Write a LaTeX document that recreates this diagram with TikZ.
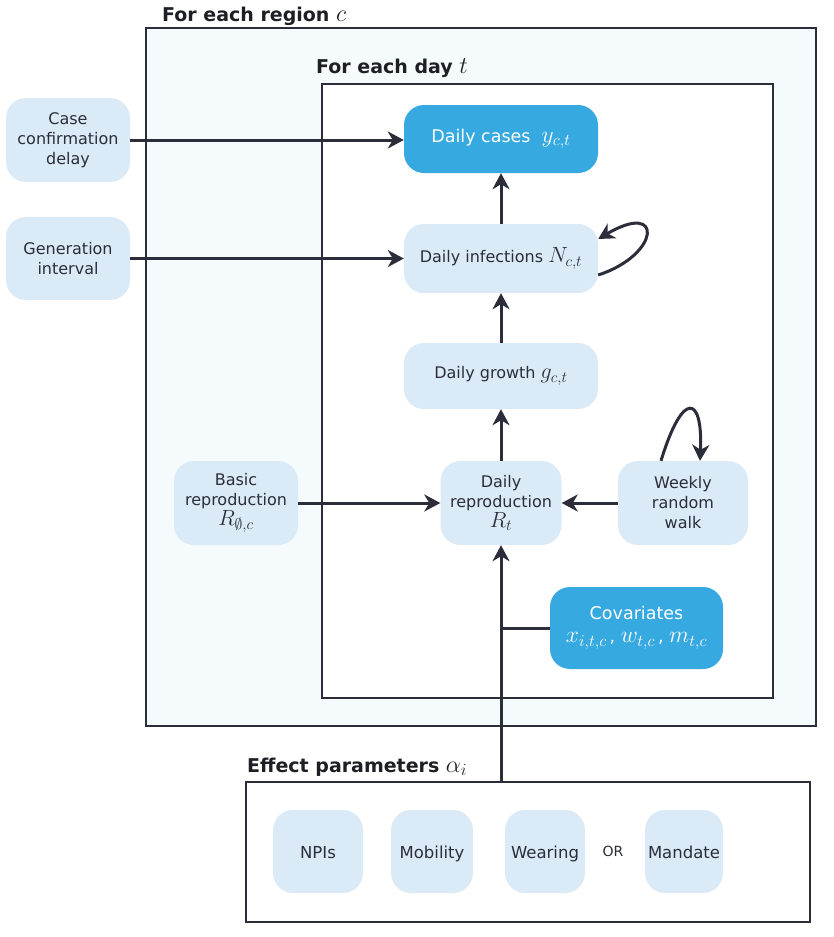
\RequirePackage{fix-cm}
\documentclass[tikz,border=0pt]{standalone}
\usepackage{fontspec}
\setmainfont{DejaVu Sans}
\DeclareMathSizes{14}{17}{12}{9}
\DeclareMathSizes{16}{22}{15.5}{11}
\DeclareMathSizes{17.5}{23.5}{16.5}{12}
\DeclareMathSizes{19}{24}{17}{12}
\usetikzlibrary{arrows.meta}
\definecolor{ink}{HTML}{2B2E3A}
\definecolor{darkblue}{HTML}{36A9E1}
\definecolor{lightblue}{HTML}{DAEBF7}
\definecolor{regionfill}{HTML}{F5FAFD}
\definecolor{titleink}{HTML}{1E1F24}
\begin{document}
\begin{tikzpicture}[x=1pt,y=-1pt,
  lbox/.style={rectangle, rounded corners=20pt, fill=lightblue, text=ink, align=center,
    font=\fontsize{16}{20}\selectfont, inner sep=0pt},
  dbox/.style={lbox, fill=darkblue, text=white, font=\fontsize{17.5}{23}\selectfont},
  ebox/.style={lbox, minimum height=83pt, text height=14pt, text depth=0pt,
    font=\fontsize{16.5}{20}\selectfont},
  frame/.style={draw=ink, line width=1.6pt, inner sep=0pt},
  arr/.style={draw=ink, line width=3pt, -{Stealth[length=16pt,width=17pt,inset=5pt]}},
  plainline/.style={draw=ink, line width=3pt},
  ttl/.style={anchor=base west, inner sep=0pt, text=titleink,
    font=\bfseries\fontsize{19}{23}\selectfont}]
\useasboundingbox (0,0) rectangle (833,937);

% frames
\node[frame, fill=regionfill, minimum width=670pt, minimum height=698pt] (region) at (481,377) {};
\node[frame, fill=white, minimum width=451pt, minimum height=614pt] (day) at (547.5,391) {};
\node[frame, fill=white, minimum width=564pt, minimum height=140pt] (effect) at (528,852) {};

\node[ttl] (regiontitle) at (162,21) {For each region $c$};
\node[ttl] (daytitle) at (316,73) {For each day $t$};
\node[ttl] (effecttitle) at (247,772) {Effect parameters $\alpha_i$};

% nodes
\node[dbox, minimum width=194pt, minimum height=68pt] (cases) at (501,139) {Daily cases \ $y_{c,t}$};
\node[lbox, minimum width=194pt, minimum height=69pt] (infections) at (501,258.5) {Daily infections $N_{c,t}$};
\node[lbox, minimum width=194pt, minimum height=66pt] (growth) at (501,376) {Daily growth $g_{c,t}$};
\node[lbox, minimum width=121pt, minimum height=84pt] (reprod) at (501,503) {Daily\\reproduction\\$R_t$};
\node[lbox, minimum width=124pt, minimum height=84pt] (basic) at (236,503) {Basic\\reproduction\\$R_{\emptyset,c}$};
\node[lbox, minimum width=130pt, minimum height=84pt] (weekly) at (683,503) {Weekly\\random\\walk};
\node[dbox, minimum width=173pt, minimum height=82pt] (covar) at (636.5,628) {Covariates\\$x_{i,t,c}$\,, $w_{t,c}$\,, $m_{t,c}$};
\node[lbox, minimum width=124pt, minimum height=84pt] (casedelay) at (68,140) {Case\\confirmation\\delay};
\node[lbox, minimum width=124pt, minimum height=83pt] (geninterval) at (68,258.5) {Generation\\interval};

\node[ebox, minimum width=90pt] (npis) at (318,851.5) {NPIs};
\node[ebox, minimum width=82pt] (mobility) at (432,851.5) {Mobility};
\node[ebox, minimum width=80pt] (wearing) at (545,851.5) {Wearing};
\node[text=ink, font=\fontsize{14}{16}\selectfont, inner sep=0pt] (ortext) at (613,851) {OR};
\node[ebox, minimum width=78pt] (mandate) at (684,851.5) {Mandate};

% connectors
\draw[arr] (casedelay.east) -- (casedelay.east -| cases.west);
\draw[arr] (geninterval.east) -- (geninterval.east -| infections.west);
\draw[arr] (infections.north) -- (cases.south);
\draw[arr] (growth.north) -- (infections.south);
\draw[arr] (reprod.north) -- (reprod.north |- growth.south);
\draw[arr] (basic.east) -- (reprod.west);
\draw[arr] (weekly.west) -- (reprod.east);
\draw[arr] (effect.north -| reprod.south) -- (reprod.south);
\coordinate (join) at (covar.west -| reprod.south);
\draw[plainline] (covar.west) -- (join);

% self loops
\draw[arr] ([yshift=-16.5pt]infections.east) .. controls +(62,-20) and +(66,-39) .. ([yshift=19.5pt]infections.east);
\draw[arr] ([xshift=-22pt]weekly.north) .. controls +(22,-72) and +(3,-65) .. ([xshift=17pt]weekly.north);
\end{tikzpicture}
\end{document}
